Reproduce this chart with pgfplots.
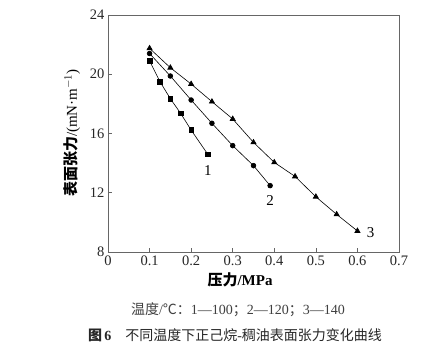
\documentclass[border=0pt]{standalone}
\usepackage{fontspec}
\setmainfont{Liberation Serif}
\newfontfamily\cjk{Noto Sans CJK SC}
\usepackage{pgfplots}
\pgfplotsset{compat=1.18}
\begin{document}
\begin{tikzpicture}[x=1pt,y=1pt]
\useasboundingbox (0,0) rectangle (437,356);
\begin{axis}[at={(108pt,104pt)}, anchor=south west, scale only axis,
  width=291pt, height=237pt,
  xmin=0, xmax=0.7, ymin=8, ymax=24,
  xtick={0,0.1,0.2,0.3,0.4,0.5,0.6,0.7},
  xticklabels={0,0.1,0.2,0.3,0.4,0.5,0.6,0.7},
  ytick={8,12,16,20,24},
  tick align=inside, xtick pos=bottom, ytick pos=left,
  axis line style={gray!80!black, line width=0.8pt},
  major tick length=4pt,
  tick style={gray!80!black, line width=0.6pt},
  ticklabel style={font=\fontsize{14.5}{16}\selectfont, text=black!85},
  /pgf/number format/assume math mode=true,
  clip=false]
\addplot[black, line width=0.6pt, mark=square*, mark size=2.3pt] coordinates {
 (0.10,20.9) (0.125,19.5) (0.15,18.35) (0.175,17.35) (0.20,16.23) (0.24,14.6)};
\addplot[black, line width=0.6pt, mark=*, mark size=2.4pt] coordinates {
 (0.10,21.4) (0.15,19.88) (0.20,18.26) (0.25,16.69) (0.30,15.18) (0.35,13.83) (0.39,12.48)};
\addplot[black, line width=0.6pt, mark=triangle*, mark size=3pt] coordinates {
 (0.10,21.75) (0.15,20.44) (0.20,19.34) (0.25,18.15) (0.30,16.98) (0.35,15.4) (0.40,14.05) (0.45,13.1) (0.50,11.73) (0.55,10.54) (0.60,9.42)};
\node[font=\fontsize{15}{16}\selectfont] at (axis cs:0.24,13.5) {1};
\node[font=\fontsize{15}{16}\selectfont] at (axis cs:0.39,11.5) {2};
\node[font=\fontsize{15}{16}\selectfont] at (axis cs:0.632,9.3) {3};
\end{axis}
\node[rotate=90, font=\fontsize{15}{17}\selectfont] at (72,223) {{\cjk\bfseries 表面张力}/(mN·m$^{-1}$)};
\node[font=\fontsize{15}{17}\selectfont] at (240,76) {{\cjk\bfseries 压力}\textbf{/MPa}};
\node[font=\fontsize{14}{16}\selectfont, text=black!75] at (238,46) {{\cjk 温度}/{\cjk ℃：}1—100{\cjk ；}2—120{\cjk ；}3—140};
\node[font=\fontsize{14}{16}\selectfont, text=black!85] at (235,21) {{\cjk\bfseries 图}\,\textbf{6}\quad{\cjk 不同温度下正己烷}-{\cjk 稠油表面张力变化曲线}};
\end{tikzpicture}
\end{document}
